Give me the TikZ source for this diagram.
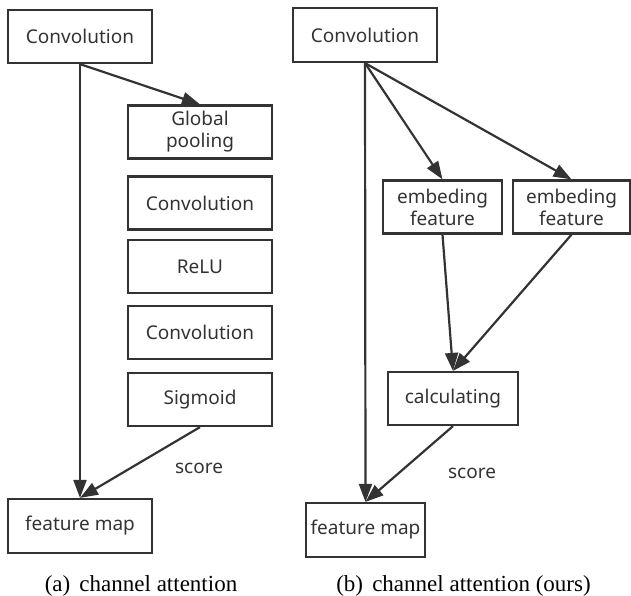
\documentclass[tikz,border=0pt]{standalone}
\usepackage{fontspec}
\setmainfont{Liberation Serif}
\newfontfamily\boxfont{Noto Sans}
\usetikzlibrary{arrows.meta}
\definecolor{ink}{HTML}{333333}
\begin{document}
\begin{tikzpicture}[x=1pt,y=-1pt,
  blk/.style={draw=ink,line width=2.2pt,text=ink,font=\boxfont\fontsize{19}{22}\selectfont,
    align=center,inner sep=0pt,minimum height=53pt},
  wide/.style={blk,minimum width=144pt},
  narrow/.style={blk,minimum width=119pt},
  conn/.style={draw=ink,line width=2.2pt},
  arr/.style={conn,-{Triangle[length=18pt,width=13pt]}},
  lbl/.style={text=ink,font=\boxfont\fontsize{19}{22}\selectfont,inner sep=0pt},
  captext/.style={font=\fontsize{23}{27}\selectfont,inner sep=0pt,anchor=base}]
\useasboundingbox (0,0) rectangle (631,596);
% left panel
\node[wide] (c1) at (80,36.5) {Convolution};
\node[wide] (gp) at (200,132) {Global\\pooling};
\node[wide] (cv2) at (200,203) {Convolution};
\node[wide] (relu) at (200,266.5) {ReLU};
\node[wide] (cv3) at (200,332.5) {Convolution};
\node[wide] (sig) at (200,399.5) {Sigmoid};
\node[wide,minimum height=54pt] (fm1) at (80,526) {feature map};
\draw[arr] (c1.south) -- (fm1.north);
\draw[arr] (c1.south) -- (gp.north);
\draw[arr] (sig.south) -- (fm1.north);
\node[lbl] (s1) at (199,468) {score};
\node[captext] (capa) at (141,591) {(a)\hspace{0.4em}channel attention};
% right panel
\node[wide,minimum height=54pt] (c2) at (365,35) {Convolution};
\node[narrow] (e1) at (442.5,207) {embeding\\feature};
\node[narrow,minimum width=117pt] (e2) at (571.5,207) {embeding\\feature};
\node[blk,minimum width=130pt] (calc) at (453,398.5) {calculating};
\node[narrow,minimum height=54pt] (fm2) at (365.5,530) {feature map};
\draw[arr] (c2.south) -- (fm2.north);
\draw[arr] (c2.south) -- (e1.north);
\draw[arr] (c2.south) -- (e2.north);
\draw[arr] (e1.south) -- (calc.north);
\draw[arr] (e2.south) -- (calc.north);
\draw[arr] (calc.south) -- (fm2.north);
\node[lbl] (s2) at (472,473) {score};
\node[captext] (capb) at (463.5,591) {(b)\hspace{0.4em}channel attention (ours)};
\end{tikzpicture}
\end{document}
